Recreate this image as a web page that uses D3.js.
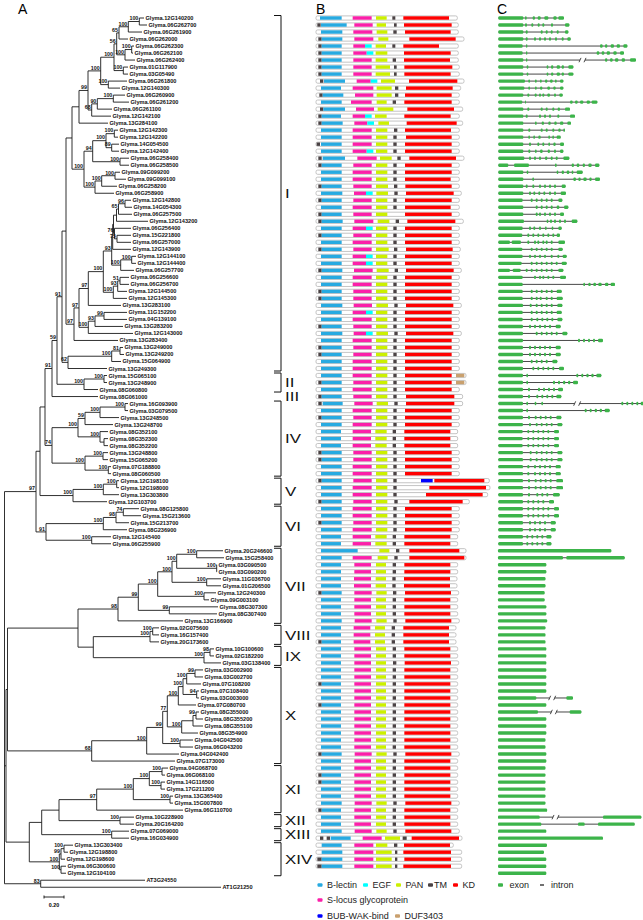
<!DOCTYPE html>
<html><head><meta charset="utf-8">
<script src="https://cdn.jsdelivr.net/npm/d3@7"></script>
<style>body{margin:0;background:#fff}svg{display:block}text{font-family:"Liberation Sans",Arial,sans-serif}</style>
</head><body><svg id="c" width="643" height="920"></svg>
<script>
// ---------------- DATA ----------------
const leafNames = ["Glyma.12G140200","Glyma.06G262700","Glyma.06G261900","Glyma.06G262000","Glyma.06G262300","Glyma.06G262100","Glyma.06G262400","Glyma.01G117900","Glyma.03G05490","Glyma.06G261800","Glyma.12G140300","Glyma.06G260900","Glyma.06G261200","Glyma.06G261100","Glyma.12G142100","Glyma.13G284100","Glyma.12G142300","Glyma.12G142200","Glyma.14G054500","Glyma.12G142400","Glyma.06G258400","Glyma.06G258500","Glyma.09G099200","Glyma.09G099100","Glyma.06G258200","Glyma.06G258900","Glyma.12G142800","Glyma.14G054300","Glyma.06G257500","Glyma.12G143200","Glyma.06G256400","Glyma.15G221800","Glyma.06G257000","Glyma.12G143900","Glyma.12G144100","Glyma.12G144400","Glyma.06G257700","Glyma.06G256600","Glyma.06G256700","Glyma.12G144500","Glyma.12G145300","Glyma.13G283100","Glyma.11G152200","Glyma.04G139100","Glyma.13G283200","Glyma.12G143000","Glyma.13G283400","Glyma.13G249000","Glyma.13G249200","Glyma.15G064900","Glyma.13G249300","Glyma.15G065100","Glyma.13G248900","Glyma.08G060800","Glyma.08G061000","Glyma.16G093900","Glyma.03G079500","Glyma.13G248500","Glyma.13G248700","Glyma.08G352100","Glyma.08G352300","Glyma.08G352200","Glyma.13G248800","Glyma.15G065200","Glyma.07G188800","Glyma.08G060500","Glyma.12G198100","Glyma.12G198000","Glyma.13G303800","Glyma.12G103700","Glyma.08G125800","Glyma.15G213600","Glyma.15G213700","Glyma.08G236900","Glyma.12G145400","Glyma.06G255900","Glyma.20G246600","Glyma.15G258400","Glyma.03G090500","Glyma.03G090200","Glyma.11G036700","Glyma.01G206500","Glyma.12G240300","Glyma.09G003100","Glyma.08G307300","Glyma.08G307400","Glyma.13G166900","Glyma.02G075600","Glyma.16G157400","Glyma.20G173600","Glyma.10G100600","Glyma.02G182200","Glyma.03G138400","Glyma.03G002900","Glyma.03G002700","Glyma.07G108200","Glyma.07G108400","Glyma.03G003000","Glyma.07G080700","Glyma.08G355000","Glyma.08G355200","Glyma.08G355100","Glyma.08G354900","Glyma.04G042500","Glyma.06G043200","Glyma.04G042400","Glyma.07G173000","Glyma.04G068700","Glyma.06G068100","Glyma.14G116500","Glyma.17G211200","Glyma.13G365400","Glyma.15G007800","Glyma.06G110700","Glyma.10G228900","Glyma.20G164200","Glyma.07G069000","Glyma.16G034900","Glyma.13G303400","Glyma.12G198800","Glyma.12G198600","Glyma.06G300600","Glyma.12G104100","AT3G24550","AT1G21250"];

const leafParent = ["n139","n139","n128","n119","n131","n131","n125","n123","n123","n108","n108","n113","n113","n97","n91","It1","n114b","n114b","n111","n111","n120","n120","n115","n115","n101","n95","g125","g125","g118","g1","g2","g117","g117","g3","g131","g131","g4","h120","h120","h1","h2","m88","m104","m104","m95","m88b","m73","k120","k120","k111","k68","II104","II104","II","I3","IVa2","IVa2","IVa1","IVa","IVb","IVb1","IVb1","IVc1","IVc1","IVc2","IVc2","V2","V2","V1","V","VI3","VI3","VI2","VI1","VI4","VI4","VII5","VII5","VII6","VII6","VII7","VII7","VII8","VII8","VII9","VII9","VII","VIII1","VIII1","VIII","IX1","IX1","IX","X7","X7","X6","X8","X8","X4","X11","X11","X10","X9","X12","X12","X1","X","XI3","XI3","XI4","XI4","XI5","XI5","XI","XII","XII","XIII","XIII","XIV2","XIV2","XIV1","XIV3","XIV3","OG","OG"];

const leafLength = [0.047,0.077,0.137,0.09,0.023,0.013,0.10,0.047,0.047,0.187,0.117,0.117,0.157,0.147,0.193,0.29,0.037,0.037,0.073,0.073,0.09,0.09,0.05,0.11,0.153,0.19,0.06,0.07,0.135,0.315,0.165,0.14,0.14,0.183,0.043,0.043,0.133,0.09,0.09,0.093,0.137,0.327,0.23,0.23,0.28,0.447,0.44,0.03,0.04,0.093,0.39,0.03,0.03,0.14,0.46,0.03,0.03,0.19,0.28,0.08,0.04,0.04,0.05,0.05,0.027,0.027,0.023,0.023,0.157,0.34,0.157,0.177,0.13,0.237,0.193,0.193,0.263,0.273,0.003,0.003,0.143,0.143,0.12,0.05,0.487,0.477,0.65,0.063,0.063,0.09,0.04,0.04,0.17,0.08,0.08,0.143,0.023,0.023,0.177,0.03,0.07,0.10,0.163,0.13,0.13,0.323,0.833,0.06,0.03,0.04,0.04,0.03,0.03,0.863,0.14,0.14,0.173,0.173,0.09,0.04,0.04,0.05,0.05,1.043,1.803];

// internal nodes: [id, parent, branch length, bootstrap]
const internalNodes = [
["R","",0,""],["A97","R",0.315,"97"],["Ax","A97",0.04,""],["Aup","Ax",0.05,""],
["I3","Aup",0.07,"91"],["I2","I3",0.05,"59"],["I1","I2",0.05,"91"],["I63","I1",0.04,""],
["Itop","I63",0.06,""],["It1","Itop",0.07,""],["n88","It1",0.09,"99"],["n100","n88",0.127,"100"],
["n114","n100",0.133,"100"],["n116","n114",0.027,"56"],["n119","n116",0.023,"65"],["n128","n119",0.093,"100"],
["n139","n128",0.11,"100"],["n125","n116",0.083,"100"],["n131","n125",0.067,"100"],["n123","n114",0.093,"100"],
["n108","n100",0.076,"100"],["n91","n88",0.037,"68"],["n97","n91",0.056,"90"],["n113","n97",0.16,"100"],
["n84","Itop",0.12,"100"],["n92","n84",0.087,"94"],["n106","n92",0.133,"100"],["n114b","n106",0.083,"100"],
["n111","n106",0.057,"89"],["n120","n92",0.273,"100"],["n95","n84",0.11,"100"],["n101","n95",0.067,"100"],
["n115","n101",0.133,"100"],["m73","I63",0.08,"97"],["m78","m73",0.05,"97"],["m88","m78",0.093,"97"],
["m103","m88",0.15,"100"],["m93","m103",0.084,"93"],["g3","m93",0.01,""],["g12","g3",0.008,""],
["g1","g12",0.03,""],["g118","g1",0.02,"65"],["g125","g118",0.065,"96"],["g2","g12",0.01,"76"],
["g117","g2",0.025,"75"],["g4","m93",0.09,"100"],["g131","g4",0.11,"100"],["h2","m103",0.10,"100"],
["h1","h2",0.044,"93"],["h120","h1",0.023,"51"],["m88b","m78",0.093,"100"],["m95","m88b",0.067,"93"],
["m104","m95",0.09,"99"],["k68","I1",0.06,"62"],["k111","k68",0.437,"100"],["k120","k111",0.083,"81"],
["II","I2",0.27,"100"],["II104","II",0.20,"100"],["IV","Aup",0.07,"74"],["IVab","IV",0.26,"100"],
["IVa","IVab",0.07,"59"],["IVa1","IVa",0.15,"100"],["IVa2","IVa1",0.25,"100"],["IVb","IVab",0.22,"100"],
["IVb1","IVb",0.04,""],["IVc","IV",0.33,"100"],["IVc1","IVc",0.18,"100"],["IVc2","IVc",0.233,"100"],
["V","Ax",0.33,"100"],["V1","V",0.303,"100"],["V2","V1",0.134,"100"],["VI","A97",0.10,"91"],
["VI1","VI",0.573,"100"],["VI2","VI1",0.127,"98"],["VI3","VI2",0.073,"74"],["VI4","VI",0.457,"100"],
["B","R",0.015,""],["C","B",0.015,""],["C7","C",0.705,""],["VII","C7",0.40,"98"],
["VII1","VII",0.203,"99"],["VII2","VII1",0.194,"100"],["VII3","VII2",0.143,"100"],["VII4","VII3",0.047,"100"],
["VII5","VII4",0.20,"100"],["VII6","VII4",0.40,"100"],["VII7","VII3",0.347,"100"],["VII8","VII2",0.463,"100"],
["VII9","VII1",0.31,"99"],["C89","C7",0.153,""],["VIII","C89",0.567,"100"],["VIII1","VIII",0.027,"100"],
["IX","C89",1.107,"100"],["IX1","IX",0.06,"98"],["X","C",0.842,"68"],["X1","X",0.55,"100"],
["X2","X1",0.16,"99"],["X3","X2",0.046,"77"],["X4","X3",0.11,"100"],["X5","X4",0.047,"100"],
["X6","X5",0.037,"100"],["X7","X6",0.083,"99"],["X8","X5",0.137,"94"],["X9","X3",0.144,"100"],
["X10","X9",0.113,""],["X11","X10",0.03,"99"],["X12","X2",0.173,"100"],["D","B",0.233,""],
["D1","D",0.124,""],["D2","D1",0.173,""],["XI","D2",0.377,"97"],["XI1","XI",0.366,"100"],
["XI2","XI1",0.16,"100"],["XI3","XI2",0.127,"100"],["XI4","XI2",0.117,"100"],["XI5","XI1",0.367,"100"],
["XII","D2",0.61,"100"],["XIII","D1",0.70,"100"],["XIV","D",0.30,"100"],["XIV1","XIV",0.017,"99"],
["XIV2","XIV1",0.03,"100"],["XIV3","XIV",0.017,"100"],["OG","R",0.362,"83"]
];

const groupNames = ["I","II","III","IV","V","VI","VII","VIII","IX","X","XI","XII","XIII","XIV"];
const groupFirst = [1,52,55,56,67,71,77,88,91,94,108,115,117,119];
const groupLast  = [51,54,55,66,70,76,87,90,93,107,114,116,118,123];

// panel B: protein length | domain:start-end (amino acids)
const domainRows = [
"848|BL:24-154|SL:220-334|PAN:360-424|TM:458-476|KD:524-798",
"854|TM:8-28|BL:30-184|SL:230-340|PAN:364-420|TM:468-484|KD:528-814",
"854|BL:30-158|SL:224-338|PAN:364-428|TM:464-484|KD:534-808",
"888|TM:14-34|BL:34-158|SL:230-344|PAN:374-434|KD:560-838",
"854|TM:14-34|BL:34-154|SL:224-294|EGF:294-334|PAN:358-420|TM:458-476|KD:524-738",
"854|TM:14-34|BL:34-154|SL:224-304|EGF:304-344|PAN:358-428|KD:528-808",
"854|TM:14-34|BL:34-154|SL:224-334|PAN:358-428|TM:460-480|KD:528-804",
"860|TM:14-34|BL:34-154|SL:224-334|PAN:358-444|TM:468-484|KD:530-818",
"860|TM:14-34|BL:34-154|SL:224-334|PAN:358-444|TM:468-484|KD:530-808",
"888|TM:24-44|BL:48-174|SL:244-328|EGF:328-368|PAN:390-474|KD:558-848",
"868|BL:30-150|SL:220-344|PAN:364-454|TM:474-494|KD:540-820",
"860|TM:20-40|BL:40-164|SL:234-344|PAN:364-454|TM:474-494|KD:534-814",
"860|BL:30-154|SL:210-334|PAN:364-424|TM:460-480|KD:530-814",
"880|TM:24-44|BL:44-174|SL:240-348|PAN:370-464|KD:548-828",
"860|TM:14-34|BL:34-150|SL:220-294|EGF:294-334|PAN:354-424|KD:530-808",
"880|TM:14-34|BL:34-160|SL:230-308|EGF:308-348|PAN:374-438|KD:544-844",
"860|BL:30-154|SL:220-334|PAN:360-428|TM:468-488|KD:534-810",
"860|BL:30-154|SL:220-334|PAN:360-428|TM:464-484|KD:540-814",
"860|TM:4-24|BL:30-154|SL:220-334|PAN:360-428|TM:464-484|KD:534-814",
"860|BL:30-154|SL:220-304|EGF:304-344|PAN:360-428|TM:464-484|KD:534-814",
"888|TM:14-34|BL:40-174|SL:248-364|PAN:384-454|TM:488-508|KD:560-840",
"860|TM:14-34|BL:34-154|SL:224-334|PAN:360-428|TM:464-484|KD:534-814",
"860|BL:30-154|SL:220-334|PAN:360-428|TM:464-484|KD:534-814",
"860|BL:30-154|SL:220-334|PAN:360-428|TM:464-484|KD:534-808",
"860|TM:14-34|BL:34-154|SL:224-334|PAN:360-432|TM:468-488|KD:536-814",
"872|BL:30-158|SL:228-300|EGF:300-340|PAN:362-432|TM:470-490|KD:540-826",
"860|TM:14-34|BL:34-154|SL:224-334|PAN:360-428|TM:464-484|KD:534-814",
"860|BL:30-154|SL:220-334|PAN:360-428|TM:464-484|KD:534-808",
"860|TM:14-34|BL:34-154|SL:224-334|PAN:360-428|KD:534-814",
"884|TM:14-34|BL:34-160|SL:230-344|PAN:370-440|TM:478-498|KD:548-836",
"860|BL:30-154|SL:220-300|EGF:300-340|PAN:360-428|TM:464-484|KD:534-814",
"860|TM:14-34|BL:34-154|SL:224-334|PAN:360-428|TM:464-484|KD:534-814",
"860|BL:30-154|SL:220-334|PAN:360-428|TM:464-484|KD:534-814",
"866|TM:14-34|BL:34-154|SL:224-334|PAN:360-436|TM:468-488|KD:540-820",
"860|BL:30-154|SL:220-300|EGF:300-340|PAN:360-428|TM:464-484|KD:534-814",
"860|BL:30-154|SL:220-300|EGF:300-340|PAN:360-428|TM:464-484|KD:534-814",
"872|TM:14-34|BL:34-158|SL:228-340|PAN:364-436|TM:472-492|KD:540-826",
"860|BL:30-154|SL:220-334|PAN:360-428|TM:464-484|KD:534-814",
"860|BL:30-154|SL:220-334|PAN:360-428|TM:464-484|KD:534-814",
"860|TM:14-34|BL:34-154|SL:224-334|PAN:360-428|TM:464-484|KD:534-814",
"860|TM:14-34|BL:34-154|SL:224-334|PAN:360-428|TM:464-484|KD:534-814",
"872|BL:30-158|SL:226-336|PAN:362-432|TM:470-490|KD:540-824",
"860|BL:30-154|SL:220-300|EGF:300-340|PAN:360-428|TM:464-484|KD:534-814",
"860|BL:30-154|SL:220-334|PAN:360-428|TM:464-484|KD:534-814",
"860|TM:14-34|BL:34-154|SL:224-334|PAN:360-428|TM:464-484|KD:534-814",
"872|BL:30-158|SL:226-300|EGF:300-340|PAN:362-432|TM:470-490|KD:540-824",
"860|BL:30-154|SL:220-334|PAN:360-428|TM:464-484|KD:534-814",
"860|TM:14-34|BL:34-154|SL:224-334|PAN:360-428|TM:464-484|KD:534-814",
"860|TM:14-34|BL:34-154|SL:224-334|PAN:360-428|TM:464-484|KD:534-814",
"860|BL:30-154|SL:220-334|PAN:360-428|TM:464-484|KD:534-814",
"860|BL:30-154|SL:220-334|PAN:360-428|TM:464-484|KD:534-814",
"900|BL:30-154|SL:220-334|PAN:360-428|TM:464-484|KD:534-814|DUF:840-890",
"900|TM:14-34|BL:34-154|SL:224-334|PAN:360-428|TM:464-484|KD:534-814|DUF:840-890",
"860|BL:30-154|SL:220-334|PAN:360-428|TM:464-484|KD:534-814",
"880|TM:14-34|BL:34-154|SL:224-334|PAN:360-428|TM:464-484|KD:540-830",
"880|TM:14-34|BL:40-160|SL:230-340|PAN:364-432|TM:470-490|KD:540-830",
"860|BL:30-154|SL:220-334|PAN:360-428|TM:464-484|KD:534-814",
"860|TM:14-34|BL:34-154|SL:224-334|PAN:360-428|TM:464-484|KD:534-814",
"860|BL:30-154|SL:220-334|PAN:360-428|TM:464-484|KD:534-814",
"850|BL:30-150|SL:220-330|PAN:356-424|TM:460-480|KD:530-806",
"850|BL:30-150|SL:220-330|PAN:356-424|TM:460-480|KD:530-806",
"850|BL:30-150|SL:220-330|PAN:356-424|TM:460-480|KD:530-806",
"860|TM:14-34|BL:34-154|SL:224-334|PAN:360-428|TM:464-484|KD:534-814",
"860|TM:14-34|BL:34-154|SL:224-334|PAN:360-428|TM:464-484|KD:534-814",
"860|BL:30-154|SL:220-334|PAN:360-428|TM:464-484|KD:534-814",
"860|BL:30-154|SL:220-334|PAN:360-428|TM:464-484|KD:534-814",
"1040|TM:14-34|BL:34-154|SL:224-334|PAN:360-428|TM:464-484|BUB:630-700|KD:710-1010",
"1044|BL:30-154|SL:220-334|PAN:360-428|TM:464-484|KD:680-1020",
"1030|BL:30-154|SL:220-334|PAN:360-428|TM:464-484|KD:660-1000",
"920|TM:14-34|BL:34-154|SL:224-334|PAN:360-428|TM:470-490|KD:560-880",
"860|BL:30-154|SL:220-334|PAN:360-428|TM:464-484|KD:534-814",
"860|BL:30-154|SL:220-334|PAN:360-428|TM:464-484|KD:534-814",
"860|TM:14-34|BL:34-154|SL:224-334|PAN:360-428|TM:464-484|KD:534-814",
"860|BL:30-154|SL:220-334|PAN:360-428|TM:464-484|KD:534-814",
"850|BL:30-150|SL:220-330|PAN:356-424|TM:460-480|KD:530-806",
"850|BL:30-150|SL:220-330|PAN:356-424|TM:460-480|KD:530-806",
"900|BL:30-250|PAN:380-440|TM:480-500|KD:560-860",
"900|BL:30-154|SL:220-334|PAN:370-430|TM:470-490|KD:560-890",
"850|BL:30-150|SL:230-330|PAN:360-420|TM:460-480|KD:530-806",
"850|BL:30-150|SL:230-330|PAN:360-420|TM:460-480|KD:530-806",
"846|BL:30-150|SL:228-330|PAN:358-420|TM:458-478|KD:528-804",
"846|BL:30-150|SL:228-330|PAN:358-420|TM:458-478|KD:528-804",
"856|TM:14-34|BL:34-154|SL:230-334|PAN:362-424|TM:462-482|KD:534-810",
"850|BL:30-150|SL:230-330|PAN:360-420|TM:460-480|KD:530-806",
"850|BL:30-150|SL:230-330|PAN:360-420|TM:460-480|KD:530-806",
"850|BL:30-150|SL:230-330|PAN:360-420|TM:460-480|KD:530-806",
"860|BL:30-154|SL:232-334|PAN:362-424|TM:464-484|KD:536-812",
"840|BL:30-150|SL:226-326|PAN:354-414|TM:454-474|KD:524-798",
"840|BL:30-150|SL:226-326|PAN:354-414|TM:454-474|KD:524-798",
"840|TM:14-34|BL:34-150|SL:226-326|PAN:354-414|TM:454-474|KD:524-798",
"850|BL:30-150|SL:230-330|PAN:360-420|TM:460-480|KD:530-806",
"850|BL:30-150|SL:230-330|PAN:360-420|TM:460-480|KD:530-806",
"856|BL:30-150|SL:230-330|PAN:360-420|TM:462-482|KD:532-810",
"850|BL:30-150|SL:230-330|PAN:360-420|TM:460-480|KD:530-806",
"850|BL:30-150|SL:230-330|PAN:360-420|TM:460-480|KD:530-806",
"850|TM:14-34|BL:34-150|SL:230-330|PAN:360-420|TM:460-480|KD:530-806",
"850|BL:30-150|SL:230-330|PAN:360-420|TM:460-480|KD:530-806",
"850|BL:30-150|SL:230-330|PAN:360-420|TM:460-480|KD:530-806",
"850|TM:14-34|BL:34-150|SL:230-330|PAN:360-420|TM:460-480|KD:530-806",
"850|BL:30-150|SL:230-330|PAN:360-420|TM:460-480|KD:530-806",
"850|BL:30-150|SL:230-330|PAN:360-420|TM:460-480|KD:530-806",
"850|BL:30-150|SL:230-330|PAN:360-420|TM:460-480|KD:530-806",
"850|BL:30-150|SL:230-330|PAN:360-420|TM:460-480|KD:530-806",
"850|BL:30-150|SL:230-330|PAN:360-420|TM:460-480|KD:530-806",
"850|BL:30-150|SL:230-330|PAN:360-420|TM:460-480|KD:530-806",
"860|TM:14-34|BL:34-154|SL:232-334|PAN:362-424|TM:464-484|KD:536-812",
"850|BL:30-150|SL:230-330|PAN:360-420|TM:460-480|KD:530-806",
"850|BL:30-150|SL:230-330|PAN:360-420|TM:460-480|KD:530-806",
"850|TM:14-34|BL:34-150|SL:230-330|PAN:360-420|TM:460-480|KD:530-806",
"850|TM:14-34|BL:34-150|SL:230-330|PAN:360-420|TM:460-480|KD:530-806",
"850|BL:30-150|SL:230-330|PAN:360-420|TM:460-480|KD:530-806",
"850|BL:30-150|SL:230-330|PAN:360-420|TM:460-480|KD:530-806",
"860|BL:30-154|SL:232-334|PAN:362-424|TM:464-484|KD:536-812",
"850|TM:14-34|BL:34-150|SL:230-330|PAN:360-420|TM:460-480|KD:530-806",
"850|BL:30-150|SL:230-330|PAN:360-420|TM:460-480|KD:530-806",
"850|BL:30-150|SL:230-330|PAN:360-420|TM:460-480|KD:530-806",
"860|BL:30-154|SL:232-334|PAN:362-424|TM:464-484|KD:536-812",
"876|TM:24-44|TM:64-84|BL:88-208|SL:280-394|PAN:414-504|TM:520-544|KD:574-858",
"824|BL:34-154|SL:230-344|PAN:360-428|TM:468-488|KD:528-804",
"874|BL:34-158|SL:230-344|PAN:360-454|TM:474-488|KD:524-810",
"874|TM:8-34|BL:34-158|SL:230-344|PAN:360-454|TM:474-488|KD:530-810",
"874|TM:8-34|BL:34-158|SL:230-344|PAN:360-454|TM:474-488|KD:524-810"
];

// panel C: exons start-end (bp)
const geneRows = [
"20-1520,1620-1720,2080-2220,2380-2560,2780-3020,3320-3520,3620-3960",
"20-1520,1620-1740,2000-2120,2380-2500,2660-2780,3180-3300,4020-4280",
"20-1520,1660-1780,2560-2680,2860-2980,3160-3280,3520-3640,4020-4220",
"20-1520,1660-1780,2160-2280,2460-2580,2760-2880,3060-3180,3420-3540,3820-3940,4160-4360",
"20-1480,1680-1760,6120-6280,6420-6560,6760-6960,7120-7320,7520-7760",
"20-1480,1680-1760,5920-6080,6220-6380,6520-6720,6920-7120,7320-7560",
"20-1520,1680-1760,6420-6560,6720-6880,7020-7220,7420-7620,7920-8280",
"20-1520,1720-1820,2920-3020,3180-3320,3520-3720,3820-3960,4220-4520",
"20-1520,1720-1820,2920-3020,3180-3320,3520-3720,3820-3960,4220-4520",
"20-1620,1820-1920,2220-2320,2520-2620,2820-2960,3120-3280,3420-3520,3720-3920",
"80-1580,1820-1920,2220-2320,2520-2660,2960-3120,3320-3460,3720-3920",
"20-1520,1760-1880,2200-2320,2460-2580,2660-2780,2960-3120,3360-3480,3680-3880",
"20-1460,1620-1680,4320-4480,4620-4780,4920-5120,5320-5520,5620-5960",
"20-1520,1760-1880,2560-2680,2860-2980,3260-3380,3580-3720,4020-4320",
"20-1520,1660-1780,2460-2580,2760-2880,3060-3180,3560-3680,4320-4620",
"20-1520,2220-2320,2620-2760,3020-3160,3380-3520,3720-3920,4160-4380",
"20-1520,1820-1940,2560-2680,2860-2980,3260-3380,3620-3760,3920-4020",
"20-1520,1820-1920,2120-2220,2420-2560,3020-3120,3260-3360,3520-3760",
"20-1520,1860-1980,2360-2480,2660-2780,3020-3120,3320-3460,3720-3960",
"20-1520,1820-1940,2220-2320,2520-2680,2980-3120,3360-3480,3720-3920",
"20-1580,1860-1980,2160-2280,2460-2580,2820-2960,3160-3280,3460-3580,3920-4280",
"20-620,960-1860,3420-3520,4420-4560,4720-4880,5080-5220,5420-5620,5820-6080",
"20-1520,1720-1820,3520-3620,3820-3960,4120-4280,4420-4520,4720-5080",
"20-1520,2060-2160,4520-4680,4820-4960,5120-5320,5480-5620,5820-6120",
"20-1520,1660-1780,2060-2180,2460-2580,2760-2880,3060-3180,3360-3480,3820-4060",
"20-1520,1860-1980,2120-2240,2420-2540,2720-2840,3060-3180,3360-3480,3760-4080",
"20-1480,1960-2080,2260-2380,2560-2680,2860-2980,3160-3280,3620-3860",
"20-1520,2260-2380,2560-2680,2860-2980,3160-3280,3520-3680,3960-4220",
"20-1520,2260-2380,2460-2580,2760-2880,3060-3180,3360-3480,3720-3960",
"20-1560,2920-3020,3120-3240,3360-3480,3660-3780,3960-4080,4420-4760",
"20-1480,1860-1980,2120-2240,2460-2580,2820-2920,3220-3320,3620-3820",
"20-1460,1760-1880,2060-2180,2360-2480,2660-2780,2960-3080,3260-3380,3520-3720",
"20-720,820-1380,1760-1880,2160-2280,2360-2480,2660-2780,2860-2980,3160-3280,3620-4020",
"20-1460,1960-2080,2260-2380,2560-2680,2860-2980,3160-3280,3620-3880",
"20-1480,1860-1980,2160-2280,2460-2580,2760-2880,3160-3280,3560-3680,3880-4120",
"20-1420,1960-2080,2260-2380,2560-2680,2860-2980,3160-3280,3460-3580,3820-4120",
"0-720,880-1360,1660-1780,1960-2080,2260-2380,2560-2680,2860-2980,3160-3280,3620-3920",
"20-1480,2160-2280,2460-2580,2660-2780,2960-3080,3260-3380,3720-4080",
"20-1480,5120-5220,5420-5560,5720-5880,6020-6220,6420-6620,6760-7020",
"20-1480,1960-2080,2260-2380,2560-2680,2860-2980,3160-3280,3520-3820",
"20-1480,1960-2080,2260-2380,2500-2620,2860-2980,3160-3280,3520-3880",
"20-1500,1900-2020,2260-2380,2560-2680,2860-2980,3160-3280,3560-3860",
"20-1480,1960-2080,2260-2380,2560-2680,2860-2980,3160-3280,3520-3820",
"20-1480,1960-2080,2300-2420,2600-2720,2900-3020,3200-3320,3560-3860",
"20-1500,1860-1980,2160-2280,2460-2580,2760-2880,3060-3180,3460-3760",
"20-1500,2260-2380,2560-2680,2860-2980,3160-3280,3460-3580,3860-4160",
"20-1500,4800-4920,5100-5220,5400-5520,5700-5820,6000-6300",
"20-1500,1860-1980,2160-2280,2460-2580,2760-2880,3060-3180,3460-3760",
"20-1500,1860-1980,2160-2280,2460-2580,2760-2880,3060-3180,3460-3760",
"20-1500,1960-2080,2260-2380,2560-2680,2860-2980,3260-3560",
"20-1500,2060-2180,2360-2480,2660-2780,2960-3080,3260-3380,3660-3960",
"20-1500,1700-1800,4700-4820,5000-5120,5300-5440,5600-5740,5900-6200",
"20-1500,1700-1800,3300-3420,3600-3720,3900-4040,4200-4340,4500-4800",
"20-1500,1800-1920,2400-2520,2700-2820,3000-3120,3300-3420,3600-3900",
"20-1500,1800-1920,2300-2420,2600-2720,2900-3020,3200-3320,3500-3800",
"20-1500,1700-1800,2200-2300,2600-2700,7400-7520,7700-7820,8000-8120,8300-8420,8560-8880",
"20-1500,1700-1800,5200-5320,5500-5620,5800-5940,6100-6240,6400-6700",
"20-1500,1800-1920,2200-2320,2500-2620,2800-2920,3100-3220,3500-3800",
"20-1500,1860-1980,2260-2380,2560-2680,2860-2980,3160-3280,3560-3860",
"20-1480,1760-1880,2060-2180,2360-2480,2660-2780,2960-3080,3360-3660",
"20-1480,1760-1880,2060-2180,2360-2480,2660-2780,2960-3080,3360-3660",
"20-1480,1760-1880,2060-2180,2360-2480,2660-2780,2960-3080,3360-3660",
"20-1500,1900-2020,2260-2380,2560-2680,2860-2980,3160-3280,3560-3860",
"20-1500,1900-2020,2260-2380,2560-2680,2860-2980,3160-3280,3560-3860",
"20-1500,1760-1880,2160-2280,2460-2580,2760-2880,3060-3180,3460-3760",
"20-1500,1760-1880,2160-2280,2460-2580,2760-2880,3060-3180,3460-3760",
"20-1500,1800-1920,2200-2320,2500-2620,2800-2920,3100-3220,3500-3900",
"20-1500,1800-1920,2200-2320,2500-2620,2800-2920,3100-3220,3500-3900",
"20-1500,1800-1920,2300-2420,2600-2720,2900-3020,3300-3700",
"20-1500,1760-1880,2060-2180,2360-2480,2660-2780,3060-3360",
"20-1500,1760-1880,2060-2180,2360-2480,2660-2780,2960-3080,3360-3660",
"20-1500,1760-1880,2060-2180,2360-2480,2660-2780,2960-3080,3360-3660",
"20-1500,1860-1980,2160-2280,2460-2580,2760-2880,3160-3460",
"20-1500,1860-1980,2160-2280,2460-2580,2760-2880,3160-3460",
"20-1500,1700-1820,2000-2120,2300-2420,2600-2720,2900-3200",
"20-1500,1700-1820,2000-2120,2300-2420,2600-2720,2900-3200",
"0-6800","0-3900,4100-7600",
"0-2900","0-2900","0-2850","0-2850","0-2800","0-2800","0-2900","0-2900","0-2950",
"0-2850","0-2850","0-2850","0-2900","0-2900","0-2900",
"0-2900","0-2900","0-2900","0-2900","0-2300,4100-4500","0-2900","0-2400,4300-5000","0-2900","0-2900","0-2900","0-2850","0-2850","0-2900","0-2900",
"0-2850","0-2850","0-2850","0-2850","0-2850","0-2850","0-2950",
"0-2500,6300-8600","0-2600,4800-5200,6000-8200",
"0-2900","0-6300",
"0-2940","0-2760","0-2900","0-2900","0-2900"
];
const geneBreakRow = [7,56,98,100,115];
const geneBreakStart = [4920,4600,3100,3200,3300];
const geneBreakEnd = [5220,4900,3400,3500,3600];

const domainKeys = ["BL","EGF","PAN","TM","KD","SL","BUB","DUF"];
const domainColors = ["#27aae1","#00ffff","#ccf000","#4a4244","#ff0000","#fb1fa9","#0000ff","#c9a06e"];
const legendText = ["B-lectin","EGF","PAN","TM","KD","S-locus glycoprotein","BUB-WAK-bind","DUF3403"];

// ---------------- LAYOUT ----------------
const svg = d3.select("#c");
const rows = internalNodes.map(d => ({id:d[0], parentId:d[1] || null, len:d[2], support:d[3]}))
  .concat(leafNames.map((n,i) => ({id:"L"+(i+1), parentId:leafParent[i], len:leafLength[i], support:"", name:n, leaf:i})));
const root = d3.stratify().id(d=>d.id).parentId(d=>d.parentId)(rows);
root.eachAfter(n => { n.minLeaf = n.children ? d3.min(n.children, c=>c.minLeaf) : n.data.leaf; });
root.each(n => { if (n.children) n.children.sort((a,b)=>a.minLeaf-b.minLeaf); });
root.eachBefore(n => { n.dist = n.parent ? n.parent.dist + n.data.len : 0; });

const xT = d3.scaleLinear().domain([0,1]).range([4.5,104.5]);
const yRow = d3.scaleLinear().domain([0,124]).range([18, 18+124*7.01]);
root.eachAfter(n => {
  n.px = xT(n.dist);
  n.py = n.children ? (n.children[0].py + n.children[n.children.length-1].py)/2 : yRow(n.data.leaf);
});

const gT = svg.append("g");
const nodes = root.descendants();
gT.selectAll("line.h").data(nodes.filter(n=>n.parent)).enter().append("line")
  .attr("x1",n=>n.parent.px).attr("x2",n=>n.px).attr("y1",n=>n.py).attr("y2",n=>n.py)
  .attr("stroke","#1a1a1a").attr("stroke-width",0.9);
gT.selectAll("line.v").data(nodes.filter(n=>n.children)).enter().append("line")
  .attr("x1",n=>n.px).attr("x2",n=>n.px)
  .attr("y1",n=>n.children[0].py).attr("y2",n=>n.children[n.children.length-1].py)
  .attr("stroke","#1a1a1a").attr("stroke-width",0.9);
gT.selectAll("text.leaf").data(root.leaves()).enter().append("text")
  .attr("x",n=>n.px+1.5).attr("y",n=>n.py+2)
  .attr("font-size",5.6).attr("font-weight","bold").attr("fill","#111")
  .text(n=>n.data.name);
gT.selectAll("text.bs").data(nodes.filter(n=>n.children && n.data.support)).enter().append("text")
  .attr("x",n=>n.px-1).attr("y",n=>n.py-1.2).attr("text-anchor","end")
  .attr("font-size",5.3).attr("font-weight","bold").attr("fill","#111")
  .text(n=>n.data.support);

// scale bar
const sbX0 = 44, sbY = 897;
const sbLen = xT(0.2) - xT(0);
svg.append("line").attr("x1",sbX0).attr("x2",sbX0+sbLen).attr("y1",sbY).attr("y2",sbY).attr("stroke","#111").attr("stroke-width",0.9);
[sbX0, sbX0+sbLen].forEach(x=>svg.append("line").attr("x1",x).attr("x2",x).attr("y1",sbY-1.5).attr("y2",sbY+1.5).attr("stroke","#111").attr("stroke-width",0.9));
svg.append("text").attr("x",sbX0+sbLen/2).attr("y",sbY+10).attr("text-anchor","middle").attr("font-size",5.3).attr("font-weight","bold").text("0.20");

// group brackets
const brX = 281;
groupNames.forEach((g,i) => {
  const y0 = yRow(groupFirst[i]-1)-2.5, y1 = yRow(groupLast[i]-1)+2.5;
  if (groupFirst[i] !== groupLast[i]) {
    svg.append("path").attr("d",`M${brX-7},${y0}H${brX}V${y1}H${brX-7}`).attr("fill","none").attr("stroke","#111").attr("stroke-width",1);
  }
  svg.append("text").attr("transform",`translate(${brX+4},${(y0+y1)/2+4.7}) scale(1.3,1)`)
    .attr("font-size",13).attr("fill","#111").text(g);
});

[["A",18],["B",316],["C",497]].forEach(([t,x])=>svg.append("text").attr("x",x).attr("y",14).attr("font-size",14).text(t));

// ---------------- PANEL B ----------------
const xB = d3.scaleLinear().domain([0,900]).range([316,466]);
const color = d3.scaleOrdinal().domain(domainKeys).range(domainColors);
const gB = svg.append("g");
domainRows.forEach((s,i) => {
  if (!s) return;
  const parts = s.split("|");
  const len = +parts[0];
  const y = yRow(i);
  gB.append("rect").attr("x",xB(0)).attr("y",y-2.1).attr("width",xB(len)-xB(0)).attr("height",4.2)
    .attr("rx",1.6).attr("fill","#fff").attr("stroke","#b5b5b5").attr("stroke-width",0.8);
  parts.slice(1).forEach(p => {
    const [k, r] = p.split(":"); const [a,b] = r.split("-").map(Number);
    gB.append("rect").attr("x",xB(a)).attr("y",y-1.7).attr("width",xB(b)-xB(a)).attr("height",3.4).attr("fill",color(k));
  });
});

// ---------------- PANEL C ----------------
const xC = d3.scaleLinear().domain([0,9000]).range([498,648]);
const gC = svg.append("g");
geneRows.forEach((s,i) => {
  if (!s) return;
  const ex = s.split(",").map(p=>p.split("-").map(Number));
  const y = yRow(i);
  const bi = geneBreakRow.indexOf(i+1);
  const start = ex[0][0], end = ex[ex.length-1][1];
  if (bi >= 0) {
    gC.append("line").attr("x1",xC(start)).attr("x2",xC(geneBreakStart[bi])).attr("y1",y).attr("y2",y).attr("stroke","#333").attr("stroke-width",0.9);
    gC.append("line").attr("x1",xC(geneBreakEnd[bi])).attr("x2",xC(end)).attr("y1",y).attr("y2",y).attr("stroke","#333").attr("stroke-width",0.9);
    [geneBreakStart[bi], geneBreakEnd[bi]].forEach(b=>gC.append("line").attr("x1",xC(b)-1).attr("x2",xC(b)+1).attr("y1",y+2.2).attr("y2",y-2.2).attr("stroke","#333").attr("stroke-width",0.9));
  } else if (ex.length > 1) {
    gC.append("line").attr("x1",xC(start)).attr("x2",xC(end)).attr("y1",y).attr("y2",y).attr("stroke","#333").attr("stroke-width",0.9);
  }
  ex.forEach(([a,b]) => {
    gC.append("rect").attr("x",xC(a)).attr("y",y-1.7).attr("width",Math.max(0.8,xC(b)-xC(a))).attr("height",3.4)
      .attr("rx",1.2).attr("fill","#3cb44a");
  });
});

// ---------------- LEGEND ----------------
const legX = [317.5,363,396,428,453,317.5,317.5,395];
const legY = [885,885,885,885,885,900,916,916];
domainKeys.forEach((k,i) => {
  svg.append("rect").attr("x",legX[i]).attr("y",legY[i]-1.7).attr("width",5).attr("height",3.4).attr("rx",1).attr("fill",domainColors[i]);
  svg.append("text").attr("x",legX[i]+(k==="TM"?6:9.5)).attr("y",legY[i]+3.2).attr("font-size",9).attr("fill","#222").text(legendText[i]);
});
svg.append("rect").attr("x",498).attr("y",885-1.7).attr("width",5).attr("height",3.4).attr("rx",1).attr("fill","#3cb44a");
svg.append("text").attr("x",509.5).attr("y",888.2).attr("font-size",9).attr("fill","#222").text("exon");
svg.append("line").attr("x1",540).attr("x2",544).attr("y1",885).attr("y2",885).attr("stroke","#111").attr("stroke-width",1.2);
svg.append("text").attr("x",551).attr("y",888.2).attr("font-size",9).attr("fill","#222").text("intron");
</script></body></html>
